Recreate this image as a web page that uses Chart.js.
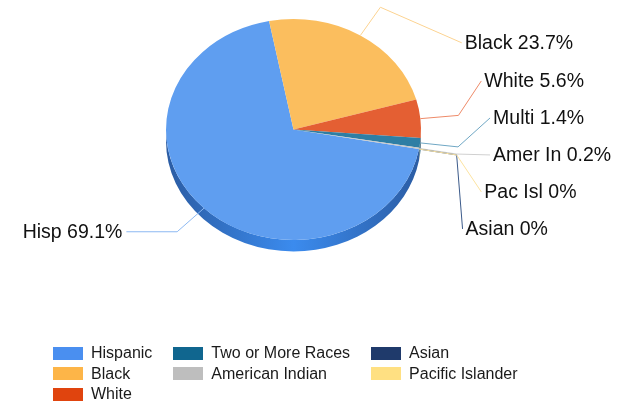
<!DOCTYPE html>
<html><head><meta charset="utf-8">
<script src="https://cdn.jsdelivr.net/npm/chart.js@4.4.1/dist/chart.umd.min.js"></script>
<style>
body{margin:0;background:#fff;}
#wrap{position:relative;width:634px;height:401px;overflow:hidden;font-family:"Liberation Sans",Arial,sans-serif;}
#c{position:absolute;left:0;top:0;}
#legend{position:absolute;left:53px;top:343px;display:grid;grid-template-rows:repeat(3,20.5px);column-gap:21px;font-size:16px;color:#1a1a1a;}
.item{display:flex;align-items:center;white-space:nowrap;}
.sw{width:30px;height:13px;margin-right:8px;flex:none;}
</style></head>
<body>
<div id="wrap">
<canvas id="c" width="634" height="401"></canvas>
<div id="legend"></div>
</div>
<script>
// ---- data ----
const categories = ["Hispanic","Black","White","Two or More Races","American Indian","Asian","Pacific Islander"];
const shortLabels = ["Hisp","Black","White","Multi","Amer In","Asian","Pac Isl"];
const percentages = [69.1, 23.7, 5.6, 1.4, 0.2, 0, 0];

// ---- styles ----
const sliceColors  = ["#5F9EF0","#FBBE5E","#E45F33","#2E7EA4","#C6C6C6","#24416F","#FEE08A"];
const legendColors = ["#4A8FF0","#FDB548","#E0440E","#10668F","#BEBEBE","#1F3A6B","#FFE082"];
const lineColors   = ["#8DB9F2","#FCD391","#EE8A68","#6FA7C4","#D0D0D0","#3B5A8A","#FCE3A0"];
const sideDark     = ["#2B5CA3","#C98F35","#A8401D","#1D5A78","#8E8E8E","#17294A","#C9AD5C"];
const sideLight    = ["#3B8BEE","#E9A947","#D2522A","#28739A","#B0B0B0","#203A66","#E8CB74"];

const SQUASH = 110/127;
const DEPTH = 11.5;

function shapeInfo(chart){
  const meta = chart.getDatasetMeta(0);
  const a0 = meta.data[0];
  return {meta, cx:a0.x, cy:a0.y, R:a0.outerRadius};
}

const pie3d = {
  id:'pie3d',
  beforeDatasetsDraw(chart){
    const ctx = chart.ctx;
    const {meta, cx, cy, R} = shapeInfo(chart);
    ctx.save();
    meta.data.forEach((arc,i)=>{
      const s = arc.startAngle, e = arc.endAngle;
      for(let k=-1;k<=2;k++){
        const lo = Math.max(s, 2*Math.PI*k), hi = Math.min(e, 2*Math.PI*k+Math.PI);
        if(hi>lo){
          const g = ctx.createLinearGradient(cx-R,0,cx+R,0);
          g.addColorStop(0, sideDark[i]);
          g.addColorStop(0.5, sideLight[i]);
          g.addColorStop(1, sideDark[i]);
          ctx.beginPath();
          ctx.ellipse(cx, cy, R, R*SQUASH, 0, lo, hi, false);
          ctx.ellipse(cx, cy+DEPTH, R, R*SQUASH, 0, hi, lo, true);
          ctx.closePath();
          ctx.fillStyle = g;
          ctx.fill();
        }
      }
    });
    ctx.restore();
    ctx.save();
    ctx.translate(0, cy); ctx.scale(1, SQUASH); ctx.translate(0, -cy);
  },
  afterDatasetsDraw(chart){
    const ctx = chart.ctx;
    ctx.restore();
    const {meta, cx, cy, R} = shapeInfo(chart);
    const items = meta.data.map((arc,i)=>{
      const mid = (arc.startAngle+arc.endAngle)/2;
      const c = Math.cos(mid), s = Math.sin(mid);
      return {i, mid,
        ax: cx+R*c, ay: cy+R*SQUASH*s,
        ex: cx+1.3*R*c, ey: cy+1.3*R*SQUASH*s,
        right: c >= 0};
    });
    const gap = 37;
    const top = cy - 0.68*R, bottom = cy + 0.78*R;
    const lcx = cx, lcy = cy + 7, lrx = 1.55*R, lry = 1.4*R;
    [true,false].forEach(side=>{
      const grp = items.filter(it=>it.right===side);
      const norm = a => { let v = a + Math.PI/2; v = ((v % (2*Math.PI)) + 2*Math.PI) % (2*Math.PI); return v; };
      grp.sort((a,b)=> side ? (norm(a.mid)-norm(b.mid) || b.i-a.i) : (b.ey-a.ey));
      if(side){
        grp.forEach((it,k)=>{ it.y = Math.max(it.ey, top, k? grp[k-1].y+gap : -1e9); });
        for(let k=grp.length-1;k>=0;k--){
          const lim = k===grp.length-1 ? bottom : grp[k+1].y-gap;
          grp[k].y = Math.min(grp[k].y, lim);
        }
      } else {
        grp.forEach(it=>{ it.y = it.ey; });
      }
      grp.forEach(it=>{
        const t = (it.y-lcy)/lry;
        const dx = lrx*Math.sqrt(Math.max(0,1-t*t));
        it.lx = side ? lcx+dx : lcx-dx;
      });
    });
    ctx.save();
    ctx.lineWidth = 1;
    ctx.font = '19.5px "Liberation Sans", Arial, sans-serif';
    ctx.fillStyle = '#111';
    ctx.textBaseline = 'middle';
    items.forEach(it=>{
      ctx.strokeStyle = lineColors[it.i];
      ctx.beginPath();
      ctx.moveTo(it.ax, it.ay);
      ctx.lineTo(it.ex, it.ey);
      ctx.lineTo(it.lx, it.y);
      ctx.stroke();
      const txt = shortLabels[it.i] + ' ' + percentages[it.i] + '%';
      if(it.right){ ctx.textAlign='left'; ctx.fillText(txt, it.lx+3, it.y+1); }
      else { ctx.textAlign='right'; ctx.fillText(txt, it.lx-4, it.y+1); }
    });
    ctx.restore();
  }
};

new Chart(document.getElementById('c'), {
  type:'pie',
  data:{
    labels: categories,
    datasets:[{
      data: percentages,
      backgroundColor: sliceColors,
      borderWidth: 0,
      clip: false
    }]
  },
  options:{
    responsive:false,
    animation:false,
    rotation: 100.2,
    layout:{padding:{left:166,right:213,top:2,bottom:144}},
    plugins:{legend:{display:false}, tooltip:{enabled:false}}
  },
  plugins:[pie3d]
});

// legend (balanced columns: 3,2,2)
const legend = document.getElementById('legend');
const nCols = 3, n = categories.length;
const base = Math.floor(n/nCols), extra = n % nCols;
let idx = 0;
for(let col=0; col<nCols; col++){
  const cnt = base + (col<extra?1:0);
  for(let r=0;r<cnt;r++,idx++){
    const d = document.createElement('div');
    d.className='item';
    d.style.gridColumn = String(col+1);
    d.style.gridRow = String(r+1);
    d.innerHTML = '<span class="sw" style="background:'+legendColors[idx]+'"></span>'+categories[idx];
    legend.appendChild(d);
  }
}
</script>
</body></html>
